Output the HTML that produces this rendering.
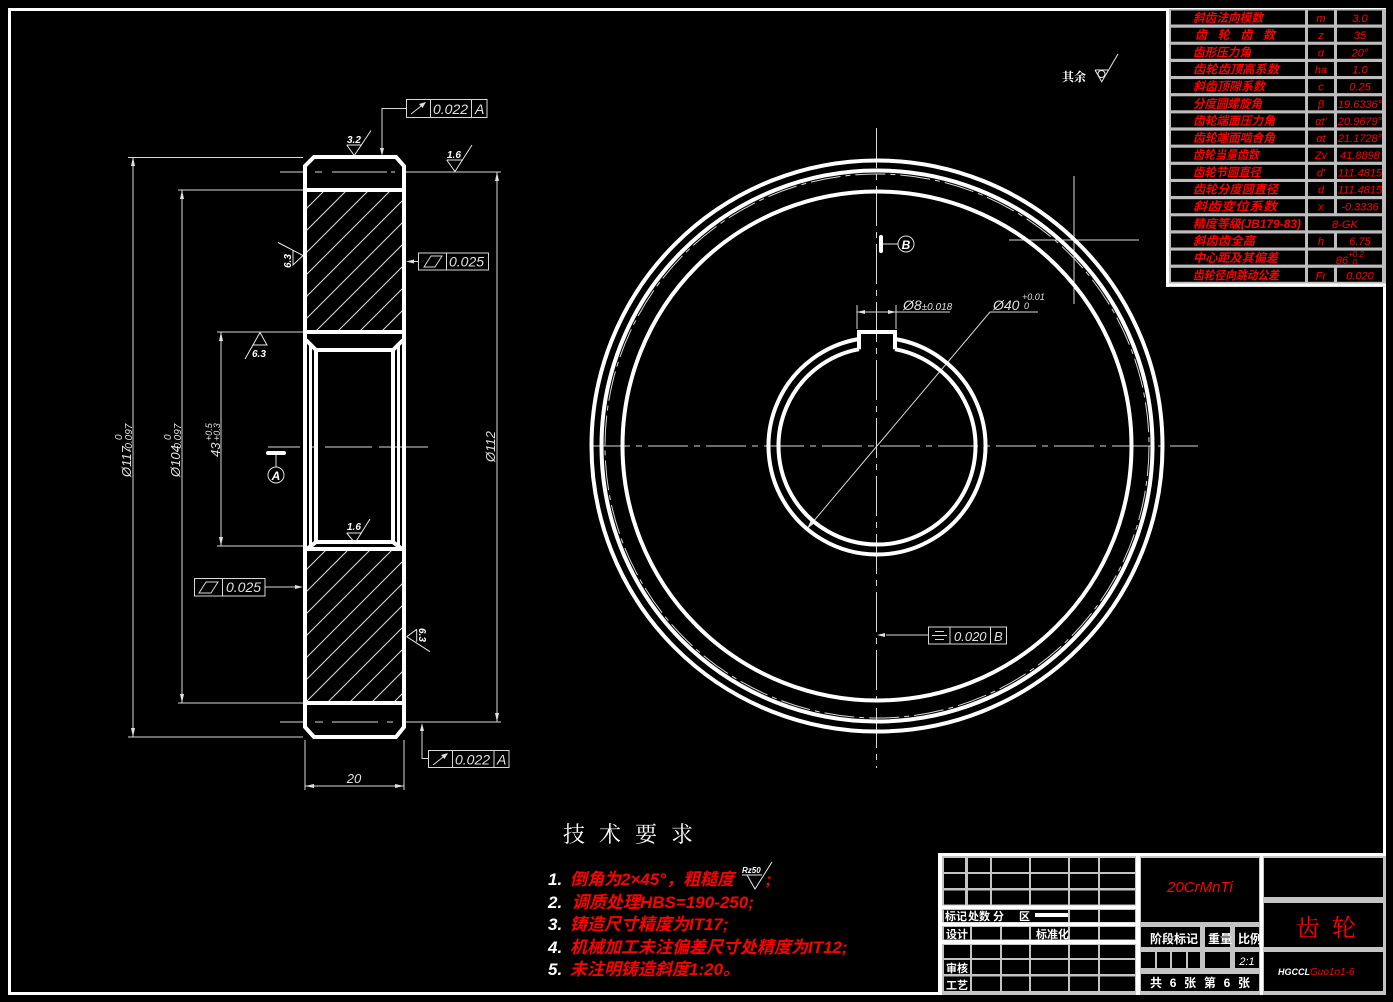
<!DOCTYPE html>
<html><head><meta charset="utf-8">
<style>
html,body{margin:0;padding:0;background:#000;}
svg{display:block;}
text{font-family:"Liberation Sans","Noto Sans CJK SC",sans-serif;}
.cj{font-family:"Liberation Serif","Noto Serif CJK SC","Noto Sans CJK SC",serif;}
</style></head><body>
<svg width="1393" height="1002" viewBox="0 0 1393 1002" xmlns="http://www.w3.org/2000/svg">
<rect width="1393" height="1002" fill="#000"/>
<defs>
<pattern id="h1" patternUnits="userSpaceOnUse" width="22" height="22" x="9" y="0">
<path d="M-2,24 L24,-2 M-13,13 L13,-13 M9,35 L35,9" stroke="#e0e0e0" stroke-width="1"/>
</pattern>
<pattern id="h2" patternUnits="userSpaceOnUse" width="22" height="22" x="18" y="0">
<path d="M-2,24 L24,-2 M-13,13 L13,-13 M9,35 L35,9" stroke="#e0e0e0" stroke-width="1"/>
</pattern>
</defs>

<!-- drawing border -->
<rect x="9.5" y="9.5" width="1375" height="984" fill="none" stroke="#fff" stroke-width="3"/>

<!-- ================= PARAMETER TABLE ================= -->
<rect x="1166" y="9" width="220" height="278" fill="#bdbdbd"/>
<line x1="1167.5" y1="9" x2="1167.5" y2="287" stroke="#fff" stroke-width="3"/>
<line x1="1166" y1="285" x2="1386" y2="285" stroke="#fff" stroke-width="3"/>
<g fill="#000">
<rect x="1171" y="10.5" width="134" height="14"/><rect x="1308" y="10.5" width="26" height="14"/><rect x="1337" y="10.5" width="45" height="14"/>
<rect x="1171" y="27.7" width="134" height="14"/><rect x="1308" y="27.7" width="26" height="14"/><rect x="1337" y="27.7" width="45" height="14"/>
<rect x="1171" y="44.8" width="134" height="14"/><rect x="1308" y="44.8" width="26" height="14"/><rect x="1337" y="44.8" width="45" height="14"/>
<rect x="1171" y="62" width="134" height="14"/><rect x="1308" y="62" width="26" height="14"/><rect x="1337" y="62" width="45" height="14"/>
<rect x="1171" y="79.1" width="134" height="14"/><rect x="1308" y="79.1" width="26" height="14"/><rect x="1337" y="79.1" width="45" height="14"/>
<rect x="1171" y="96.3" width="134" height="14"/><rect x="1308" y="96.3" width="26" height="14"/><rect x="1337" y="96.3" width="45" height="14"/>
<rect x="1171" y="113.4" width="134" height="14"/><rect x="1308" y="113.4" width="26" height="14"/><rect x="1337" y="113.4" width="45" height="14"/>
<rect x="1171" y="130.6" width="134" height="14"/><rect x="1308" y="130.6" width="26" height="14"/><rect x="1337" y="130.6" width="45" height="14"/>
<rect x="1171" y="147.7" width="134" height="14"/><rect x="1308" y="147.7" width="26" height="14"/><rect x="1337" y="147.7" width="45" height="14"/>
<rect x="1171" y="164.9" width="134" height="14"/><rect x="1308" y="164.9" width="26" height="14"/><rect x="1337" y="164.9" width="45" height="14"/>
<rect x="1171" y="182" width="134" height="14"/><rect x="1308" y="182" width="26" height="14"/><rect x="1337" y="182" width="45" height="14"/>
<rect x="1171" y="199.2" width="134" height="14"/><rect x="1308" y="199.2" width="26" height="14"/><rect x="1337" y="199.2" width="45" height="14"/>
<rect x="1171" y="216.3" width="134" height="14"/><rect x="1308" y="216.3" width="74" height="14"/>
<rect x="1171" y="233.5" width="134" height="14"/><rect x="1308" y="233.5" width="26" height="14"/><rect x="1337" y="233.5" width="45" height="14"/>
<rect x="1171" y="250.6" width="134" height="14"/><rect x="1308" y="250.6" width="74" height="14"/>
<rect x="1171" y="267.8" width="134" height="14"/><rect x="1308" y="267.8" width="26" height="14"/><rect x="1337" y="267.8" width="45" height="14"/>
</g>
<g class="cj" fill="#ff0000" font-size="12" font-weight="bold" font-style="italic">
<text x="1193" y="22" textLength="70" lengthAdjust="spacingAndGlyphs">斜齿法向模数</text>
<text x="1195" y="39.2" textLength="80" lengthAdjust="spacing">齿轮齿数</text>
<text x="1193" y="56.3" textLength="58" lengthAdjust="spacingAndGlyphs">齿形压力角</text>
<text x="1193" y="73.5" textLength="86" lengthAdjust="spacingAndGlyphs">齿轮齿顶高系数</text>
<text x="1193" y="90.6" textLength="72" lengthAdjust="spacingAndGlyphs">斜齿顶隙系数</text>
<text x="1193" y="107.8" textLength="69" lengthAdjust="spacingAndGlyphs">分度圆螺旋角</text>
<text x="1193" y="124.9" textLength="82" lengthAdjust="spacingAndGlyphs">齿轮端面压力角</text>
<text x="1193" y="142.1" textLength="82" lengthAdjust="spacingAndGlyphs">齿轮端面啮合角</text>
<text x="1193" y="159.2" textLength="66" lengthAdjust="spacingAndGlyphs">齿轮当量齿数</text>
<text x="1193" y="176.4" textLength="68" lengthAdjust="spacingAndGlyphs">齿轮节圆直径</text>
<text x="1193" y="193.5" textLength="85" lengthAdjust="spacingAndGlyphs">齿轮分度圆直径</text>
<text x="1193" y="210.7" textLength="84" lengthAdjust="spacingAndGlyphs">斜齿变位系数</text>
<text x="1193" y="227.8" textLength="108" lengthAdjust="spacingAndGlyphs">精度等级(JB179-83)</text>
<text x="1193" y="245" textLength="62" lengthAdjust="spacingAndGlyphs">斜齿齿全高</text>
<text x="1193" y="262.1" textLength="85" lengthAdjust="spacingAndGlyphs">中心距及其偏差</text>
<text x="1193" y="279.3" textLength="86" lengthAdjust="spacingAndGlyphs">齿轮径向跳动公差</text>
</g>
<g fill="#ff0000" font-size="11" font-style="italic" text-anchor="middle" font-family="Liberation Serif, serif">
<text x="1321" y="22">m</text><text x="1321" y="39.2">z</text><text x="1321" y="56.3">α</text>
<text x="1321" y="73.5">ha</text><text x="1321" y="90.6">c</text><text x="1321" y="107.8">β</text>
<text x="1321" y="124.9">αt′</text><text x="1321" y="142.1">αt</text><text x="1321" y="159.2">Zv</text>
<text x="1321" y="176.4">d′</text><text x="1321" y="193.5">d</text><text x="1321" y="210.7">x</text>
<text x="1321" y="245">h</text><text x="1321" y="279.3">Fr</text>
</g>
<g fill="#ff0000" font-size="11" font-style="italic" text-anchor="middle" font-family="Liberation Serif, serif">
<text x="1360" y="22">3.0</text><text x="1360" y="39.2">35</text><text x="1360" y="56.3">20°</text>
<text x="1360" y="73.5">1.0</text><text x="1360" y="90.6">0.25</text>
<text x="1360" y="107.8">19.6336°</text><text x="1360" y="124.9">20.9679°</text><text x="1360" y="142.1">21.1728°</text>
<text x="1360" y="159.2">41.8898</text><text x="1360" y="176.4">111.4815</text><text x="1360" y="193.5">111.4815</text>
<text x="1360" y="210.7">-0.3336</text>
<text x="1345" y="227.8">8-GK</text>
<text x="1360" y="245">6.75</text>
<text x="1342" y="264">86</text><text x="1356" y="257" font-size="8">+0.2</text><text x="1355" y="265" font-size="8">0</text>
<text x="1360" y="279.3">0.020</text>
</g>

<!-- ================= LEFT SECTION VIEW ================= -->
<!-- hatch -->
<rect x="307" y="192" width="95" height="138" fill="url(#h1)"/>
<rect x="307" y="551" width="95" height="150" fill="url(#h2)"/>

<g stroke="#d8d8d8" stroke-width="1" fill="none">
<!-- extension lines -->
<path d="M128,157.5 H303 M178,190 H303 M217,332 H303 M217,546 H303 M178,703 H303 M128,737 H303"/>
<path d="M280,172 H303 M406,172 H501 M280,722 H303 M406,722 H501"/>
<path d="M305,740 V790 M404,740 V790"/>
<!-- dimension lines -->
<path d="M133,157 V737 M182,190 V703 M221,332 V546 M497,172 V722 M305,786 H404"/>
<!-- pitch line dashes inside -->
<path d="M315,172 H322 M332,172 H387 M391,172 H395 M315,722 H323 M332,722 H378 M387,722 H393"/>
<!-- centerline -->
<path d="M268,447 H300 M310,447 H317 M325,447 H372 M379,447 H428"/>
</g>
<g fill="#e0e0e0">
<polygon points="133,157 131,166 135,166"/><polygon points="133,737 131,728 135,728"/>
<polygon points="182,190 180,199 184,199"/><polygon points="182,703 180,694 184,694"/>
<polygon points="221,332 219,341 223,341"/><polygon points="221,546 219,537 223,537"/>
<polygon points="497,172 495,181 499,181"/><polygon points="497,722 495,713 499,713"/>
<polygon points="305,786 314,784 314,788"/><polygon points="404,786 395,784 395,788"/>
</g>

<!-- body outline -->
<g stroke="#fff" stroke-width="4" fill="none" stroke-linejoin="miter">
<path d="M305,166 L314,157 L396,157 L404,166 L404,727 L396,737 L314,737 L305,727 Z"/>
<path d="M305,190 H404 M305,332 H404 M305,549 H404 M305,703 H404"/>
<path d="M306,340 L316,350 H393 L403,340"/>
<path d="M316,350 V542 M393,350 V542"/>
<path d="M307,549 L316,542 H393 L402,549"/>
</g>
<path d="M310.5,345 V547 M398.5,345 V547" stroke="#fff" stroke-width="3"/>

<!-- dimension texts (rotated) -->
<g fill="#e0e0e0" font-style="italic">
<g transform="translate(131,477) rotate(-90)"><text x="0" y="0" font-size="13">Ø117</text><text x="25" y="1" font-size="10">-0.097</text><text x="37" y="-9" font-size="10">0</text></g>
<g transform="translate(180,477) rotate(-90)"><text x="0" y="0" font-size="13">Ø104</text><text x="25" y="1" font-size="10">-0.097</text><text x="37" y="-9" font-size="10">0</text></g>
<g transform="translate(220,457) rotate(-90)"><text x="0" y="0" font-size="13">43</text><text x="16" y="0" font-size="9">+0.3</text><text x="16" y="-8" font-size="9">+0.5</text></g>
<g transform="translate(495,462) rotate(-90)"><text x="0" y="0" font-size="13">Ø112</text></g>
<text x="354" y="783" font-size="13" text-anchor="middle">20</text>
</g>

<!-- roughness symbols left view -->
<g stroke="#e8e8e8" stroke-width="1" fill="none">
<path d="M346.7,145 L354.3,155.5 L371,130.5 M346.7,145 H362"/>
<path d="M446.7,160 L455,171.5 L472,145 M446.7,160 H463"/>
<path d="M303,255.5 L278,242.5 M293,250.3 V265 L303,255.5"/>
<path d="M260,332.5 L245,359 M253,345 H267 L260,332.5"/>
<path d="M346.7,533 L355,543 L370,519 M346.7,533 H362"/>
<path d="M406.7,636.7 L430,651.7 M416.7,629.3 V641.7 M416.7,629.3 L406.7,636.7"/>
</g>
<g fill="#fff" font-size="10" font-weight="bold" font-style="italic">
<text x="347" y="143">3.2</text>
<text x="447" y="158">1.6</text>
<text x="252" y="357">6.3</text>
<text x="347" y="530">1.6</text>
<g transform="translate(291,268) rotate(-90)"><text x="0" y="0">6.3</text></g>
<g transform="translate(419,628) rotate(90)"><text x="0" y="0">6.3</text></g>
</g>

<!-- GD&T left view -->
<g stroke="#d8d8d8" stroke-width="1" fill="none">
<rect x="406.5" y="99.5" width="80.5" height="18"/><path d="M430.5,99.5 V117.5 M471.5,99.5 V117.5"/>
<path d="M411,114 L425,103"/>
<path d="M406,108.5 H382 V149"/>
<rect x="418.5" y="253" width="70" height="17"/><path d="M446.5,253 V270"/>
<polygon points="424,267 431,256 442,256 435,267"/>
<path d="M418,261.5 H413"/>
<rect x="194.5" y="578.5" width="70.5" height="17.5"/><path d="M222.5,578.5 V596"/>
<polygon points="199,593 206,582 218,582 211,593"/>
<path d="M265,587 H296"/>
<rect x="428.5" y="750.5" width="80.5" height="17"/><path d="M452.5,750.5 V767.5 M494,750.5 V767.5"/>
<path d="M433,765 L447,754"/>
<path d="M428,758.5 H422 V730"/>
</g>
<g fill="#e0e0e0">
<polygon points="426,102 419,104 422.5,108"/>
<polygon points="382,156 380,148 384,148"/>
<polygon points="406,261.5 414,259.5 414,263.5"/>
<polygon points="303,587 295,585 295,589"/>
<polygon points="448,753 441,755 444.5,759"/>
<polygon points="422,723 420,731 424,731"/>
</g>
<g fill="#e0e0e0" font-style="italic">
<text x="433" y="114" font-size="14">0.022</text><text x="475" y="114" font-size="14">A</text>
<text x="449" y="266.5" font-size="14">0.025</text>
<text x="226" y="592" font-size="14">0.025</text>
<text x="455" y="764.5" font-size="14">0.022</text><text x="497" y="764.5" font-size="14">A</text>
</g>
<!-- datum A -->
<rect x="266" y="451" width="20" height="4" rx="2" fill="#fff"/>
<path d="M276,455 V467" stroke="#e0e0e0" stroke-width="1"/>
<circle cx="276" cy="475" r="8" fill="none" stroke="#e0e0e0" stroke-width="1"/>
<text x="276" y="480" font-size="12" font-weight="bold" font-style="italic" fill="#fff" text-anchor="middle">A</text>

<!-- ================= RIGHT CIRCLE VIEW ================= -->
<g stroke="#d8d8d8" stroke-width="1" fill="none">
<path d="M876.5,128 V768" stroke-dasharray="40 6 6 6"/>
<path d="M590,446 H1198" stroke-dasharray="40 6 6 6"/>
<circle cx="877" cy="446" r="272" stroke-dasharray="30 5 5 5"/>
<path d="M1074,176 V304 M1009,240 H1139"/>
<!-- Ø8 dim -->
<path d="M857,305 V329 M896,305 V329 M857,312 H950"/>
<!-- Ø40 leader -->
<path d="M1038,312 H990 L807,529"/>
</g>
<g fill="#e0e0e0">
<polygon points="857,312 865,310 865,314"/><polygon points="896,312 888,310 888,314"/>
<polygon points="807,529 810.5,521 813.5,524"/>
</g>
<g stroke="#fff" stroke-width="4" fill="none">
<circle cx="877" cy="446" r="285.5"/>
<circle cx="877" cy="446" r="275.5"/>
<circle cx="877" cy="446" r="254.5"/>
<path d="M895,339 A108.5,108.5 0 1 1 859,339"/>
<path d="M859,349.2 L859,332 L895,332 L895,349.2"/>
<path d="M895,349.2 A98.5,98.5 0 1 1 859,349.2"/>
</g>
<g fill="#e0e0e0" font-style="italic">
<text x="903" y="310" font-size="14">Ø8<tspan font-size="10">±0.018</tspan></text>
<text x="993" y="310" font-size="14">Ø40</text>
<text x="1022" y="300" font-size="9">+0.01</text>
<text x="1024" y="309" font-size="9">0</text>
</g>
<!-- datum B -->
<rect x="879" y="235" width="4" height="18" rx="2" fill="#fff"/>
<path d="M883,244 H898" stroke="#e0e0e0" stroke-width="1"/>
<circle cx="906" cy="244" r="8" fill="none" stroke="#e0e0e0" stroke-width="1"/>
<text x="906" y="249" font-size="12" font-weight="bold" font-style="italic" fill="#fff" text-anchor="middle">B</text>
<!-- symmetry tolerance -->
<g stroke="#d8d8d8" stroke-width="1" fill="none">
<rect x="928.5" y="627" width="78" height="17"/><path d="M950,627 V644 M990.5,627 V644"/>
<path d="M935,631.5 H944 M932,635.5 H947 M935,639.5 H944"/>
<path d="M928,635 H886"/>
</g>
<polygon points="877,635 885,633 885,637" fill="#e0e0e0"/>
<g fill="#e0e0e0" font-style="italic" font-size="13">
<text x="954" y="641">0.020</text><text x="994" y="641">B</text>
</g>
<!-- 其余 -->
<text x="1062" y="81" class="cj" font-size="12" font-weight="bold" fill="#fff">其余</text>
<g stroke="#e8e8e8" stroke-width="1" fill="none">
<path d="M1095,70 L1101.7,81.7 L1118,54 M1095,70 H1108"/>
<circle cx="1101.5" cy="74" r="3.5"/>
</g>

<!-- ================= TECH REQUIREMENTS ================= -->
<text x="563" y="842" class="cj" font-size="22" fill="#fff" letter-spacing="14">技术要求</text>
<g class="cj" font-size="17" font-weight="bold" font-style="italic">
<text x="548" y="885" fill="#fff">1.</text><text x="570" y="885" fill="#ff0000">倒角为2×45°，粗糙度</text><text x="766" y="885" fill="#ff0000">;</text>
<text x="548" y="908" fill="#fff">2.</text><text x="572" y="908" fill="#ff0000">调质处理HBS=190-250;</text>
<text x="548" y="930" fill="#fff">3.</text><text x="570" y="930" fill="#ff0000">铸造尺寸精度为IT17;</text>
<text x="548" y="953" fill="#fff">4.</text><text x="570" y="953" fill="#ff0000">机械加工未注偏差尺寸处精度为IT12;</text>
<text x="548" y="975" fill="#fff">5.</text><text x="570" y="975" fill="#ff0000">未注明铸造斜度1:20。</text>
</g>
<text x="742" y="873" font-size="8" font-weight="bold" font-style="italic" fill="#fff">Rz50</text>
<path d="M742,875 H762 M747,875 L755,889 L772,862" stroke="#e8e8e8" stroke-width="1" fill="none"/>

<!-- ================= TITLE BLOCK ================= -->
<rect x="938" y="853" width="448" height="142" fill="#c4c4c4"/>
<rect x="938" y="853" width="448" height="3" fill="#fff"/>
<rect x="938" y="853" width="4" height="142" fill="#fff"/>
<rect x="1136" y="853" width="4" height="142" fill="#fff"/>
<rect x="1260" y="853" width="3" height="142" fill="#fff"/>
<rect x="942" y="905.5" width="194" height="3.5" fill="#fff"/>
<rect x="942" y="922.5" width="194" height="3.5" fill="#fff"/>
<rect x="942" y="940" width="194" height="4" fill="#fff"/>
<g fill="#000">
<rect x="944" y="858" width="21" height="14"/><rect x="968" y="858" width="22" height="14"/><rect x="992" y="858" width="37" height="14"/><rect x="1031" y="858" width="37" height="14"/><rect x="1070" y="858" width="28" height="14"/><rect x="1100" y="858" width="35" height="14"/>
<rect x="944" y="874" width="21" height="14"/><rect x="968" y="874" width="22" height="14"/><rect x="992" y="874" width="37" height="14"/><rect x="1031" y="874" width="37" height="14"/><rect x="1070" y="874" width="28" height="14"/><rect x="1100" y="874" width="35" height="14"/>
<rect x="944" y="890.5" width="21" height="14"/><rect x="968" y="890.5" width="22" height="14"/><rect x="992" y="890.5" width="37" height="14"/><rect x="1031" y="890.5" width="37" height="14"/><rect x="1070" y="890.5" width="28" height="14"/><rect x="1100" y="890.5" width="35" height="14"/>
<rect x="944" y="910" width="124" height="12"/><rect x="1070" y="910" width="28" height="12"/><rect x="1100" y="910" width="35" height="12"/>
<rect x="944" y="927" width="26" height="12.5"/><rect x="972" y="927" width="28" height="12.5"/><rect x="1002" y="927" width="27" height="12.5"/><rect x="1031" y="927" width="37" height="12.5"/><rect x="1070" y="927" width="28" height="12.5"/><rect x="1100" y="927" width="35" height="12.5"/>
<rect x="944" y="945" width="26" height="13"/><rect x="972" y="945" width="28" height="13"/><rect x="1002" y="945" width="27" height="13"/><rect x="1031" y="945" width="37" height="13"/><rect x="1070" y="945" width="28" height="13"/><rect x="1100" y="945" width="35" height="13"/>
<rect x="944" y="960" width="26" height="14"/><rect x="972" y="960" width="28" height="14"/><rect x="1002" y="960" width="27" height="14"/><rect x="1031" y="960" width="37" height="14"/><rect x="1070" y="960" width="28" height="14"/><rect x="1100" y="960" width="35" height="14"/>
<rect x="944" y="976.5" width="26" height="14.5"/><rect x="972" y="976.5" width="28" height="14.5"/><rect x="1002" y="976.5" width="27" height="14.5"/><rect x="1031" y="976.5" width="37" height="14.5"/><rect x="1070" y="976.5" width="28" height="14.5"/><rect x="1100" y="976.5" width="35" height="14.5"/>
<rect x="1141" y="858" width="118" height="64"/>
<rect x="1141" y="927" width="59" height="20"/><rect x="1205" y="927" width="25" height="20"/><rect x="1235" y="927" width="24" height="20"/>
<rect x="1141" y="952" width="14" height="16"/><rect x="1157" y="952" width="13" height="16"/><rect x="1172" y="952" width="14" height="16"/><rect x="1188" y="952" width="12" height="16"/><rect x="1205" y="952" width="25" height="16"/><rect x="1235" y="952" width="24" height="16"/>
<rect x="1141" y="974" width="118" height="17"/>
<rect x="1264" y="858" width="119" height="39"/>
<rect x="1264" y="903" width="119" height="44"/>
<rect x="1264" y="952" width="119" height="39"/>
</g>
<rect x="1035" y="913" width="33" height="4" fill="#fff"/>
<g class="cj" fill="#fff" font-size="11" font-weight="bold">
<text x="945" y="920">标记</text><text x="968" y="920">处数</text><text x="993" y="920">分</text><text x="1019" y="920">区</text>
<text x="946" y="938">设计</text><text x="1036" y="938">标准化</text>
<text x="946" y="972">审核</text><text x="946" y="989">工艺</text>
<text x="1150" y="943" font-size="12">阶段标记</text>
<text x="1208" y="943" font-size="12">重量</text>
<text x="1238" y="943" font-size="12">比例</text>
<text x="1200" y="987" font-size="12" text-anchor="middle" textLength="100" lengthAdjust="spacing">共 6 张 第 6 张</text>
</g>
<text x="1247" y="965" font-size="11" font-style="italic" fill="#fff" text-anchor="middle">2:1</text>
<text x="1200" y="892" font-size="15" font-style="italic" fill="#ff0000" text-anchor="middle" font-family="Liberation Serif, serif">20CrMnTi</text>
<text x="1296" y="936" class="cj" font-size="24" fill="#ff0000" letter-spacing="12">齿轮</text>
<text x="1278" y="975" font-size="9" font-weight="bold" font-style="italic" fill="#fff">HGCCL</text>
<text x="1310" y="975" font-size="10" font-style="italic" fill="#ff0000" font-family="Liberation Serif, serif">Guo1o1-6</text>
</svg>
</body></html>
